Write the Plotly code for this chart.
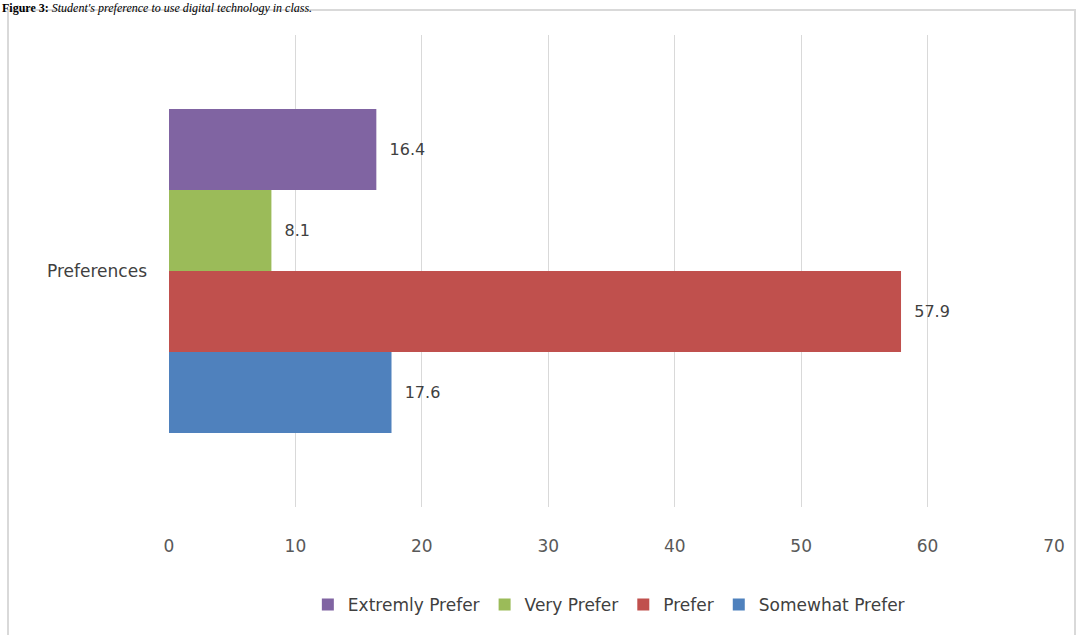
import plotly.graph_objects as go

category = ["Preferences"]
series_names = ["Somewhat Prefer", "Prefer", "Very Prefer", "Extremly Prefer"]
series_values = [17.6, 57.9, 8.1, 16.4]
colors = ["#4f81bd", "#c0504d", "#9bbb59", "#8064a2"]
x_ticks = [0, 10, 20, 30, 40, 50, 60, 70]
title_text = "<b>Figure 3:</b> <i>Student's preference to use digital technology in class.</i>"

font_fam = "DejaVu Sans, sans-serif"

fig = go.Figure()
for name, val, col in zip(series_names, series_values, colors):
    fig.add_trace(go.Bar(
        y=category, x=[val], name=name, orientation="h",
        marker=dict(color=col, line=dict(width=0)),
        text=[val], texttemplate="  %{x}", textposition="outside",
        textfont=dict(size=16, color="#404040", family=font_fam),
        cliponaxis=False,
    ))

L, R, T, B = 169, 24, 35, 128
W, H = 1078, 635
pw, ph = W - L - R, H - T - B

fig.update_layout(
    width=W, height=H,
    margin=dict(l=L, r=R, t=T, b=B, autoexpand=False),
    paper_bgcolor="white", plot_bgcolor="white",
    barmode="group", bargap=0.314, bargroupgap=0,
    showlegend=True,
    legend=dict(orientation="h", traceorder="reversed", x=0.497, xanchor="center",
                y=(T + ph - 605) / ph, yanchor="middle",
                font=dict(size=17, color="#404040", family=font_fam)),
    xaxis=dict(range=[0, 70], tickvals=x_ticks, showgrid=True, gridcolor="#d9d9d9",
               gridwidth=1, zeroline=False, showline=False, ticks="",
               ticklabelstandoff=27,
               tickfont=dict(size=17, color="#595959", family=font_fam)),
    yaxis=dict(showgrid=False, zeroline=False, showline=False, ticks="",
               ticklabelstandoff=21,
               tickfont=dict(size=17, color="#404040", family=font_fam)),
    shapes=[dict(type="rect", xref="paper", yref="paper",
                 x0=(8 - L) / pw, x1=(1075 - L) / pw,
                 y0=-(H + 10 - T - ph) / ph, y1=1 + (T - 10) / ph,
                 line=dict(color="#d9d9d9", width=2), fillcolor="rgba(0,0,0,0)", layer="below")],
    annotations=[dict(xref="paper", yref="paper", x=(0 - L) / pw, y=1 + (T + 1) / ph,
                      xanchor="left", yanchor="top", showarrow=False,
                      text=title_text,
                      font=dict(size=12, color="black", family="Liberation Serif, serif"))],
)

fig.write_html("out.html", config={"displayModeBar": False},
               post_script="document.body.style.margin='0';")
